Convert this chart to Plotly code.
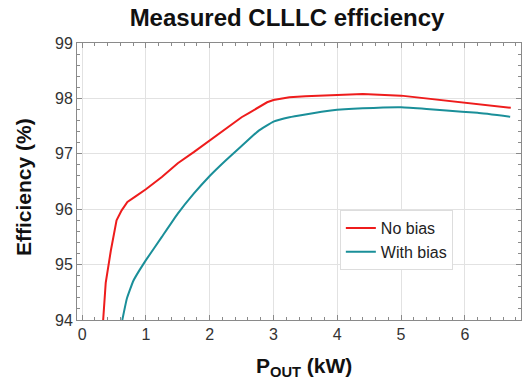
import plotly.graph_objects as go

# Data
p_no_bias = [0.33, 0.37, 0.45, 0.54, 0.62, 0.71, 0.85, 1.0, 1.25, 1.5, 1.75, 2.0, 2.25, 2.5, 2.62, 2.76, 2.9, 3.0, 3.25, 3.5, 3.9, 4.4, 5.0, 5.4, 5.7, 6.2, 6.72]
eff_no_bias = [94.0, 94.67, 95.25, 95.8, 95.98, 96.13, 96.24, 96.36, 96.58, 96.83, 97.03, 97.24, 97.45, 97.66, 97.74, 97.84, 97.93, 97.97, 98.02, 98.04, 98.06, 98.08, 98.05, 98.0, 97.96, 97.9, 97.83]

p_with_bias = [0.63, 0.7, 0.8, 0.9, 1.0, 1.25, 1.5, 1.75, 2.0, 2.25, 2.5, 2.76, 3.0, 3.25, 3.5, 3.9, 4.4, 5.0, 5.4, 5.71, 6.2, 6.71]
eff_with_bias = [94.0, 94.38, 94.7, 94.9, 95.08, 95.5, 95.92, 96.28, 96.6, 96.88, 97.14, 97.41, 97.58, 97.66, 97.71, 97.78, 97.82, 97.84, 97.81, 97.78, 97.74, 97.67]

x_ticks = [0, 1, 2, 3, 4, 5, 6]
y_ticks = [94, 95, 96, 97, 98, 99]

series_names = ["No bias", "With bias"]
colors = ["#ee1c1c", "#1a8f99"]

fig = go.Figure()
fig.add_trace(go.Scatter(x=p_no_bias, y=eff_no_bias, mode="lines", name=series_names[0],
                         line=dict(color=colors[0], width=2)))
fig.add_trace(go.Scatter(x=p_with_bias, y=eff_with_bias, mode="lines", name=series_names[1],
                         line=dict(color=colors[1], width=2, shape="spline", smoothing=0.3)))

font_family = "Liberation Sans, Arial, sans-serif"
axis_common = dict(
    showline=True, linecolor="#8a8a8a", linewidth=1, mirror="ticks",
    ticks="inside", ticklen=5, tickcolor="#8a8a8a",
    showgrid=True, gridcolor="#e2e2e2", gridwidth=1,
    zeroline=False,
    tickfont=dict(family=font_family, size=16, color="#333333"),
    minor=dict(dtick=0.2, ticks="inside", ticklen=3, tickcolor="#8a8a8a", showgrid=False),
)

fig.update_layout(
    width=522, height=380,
    margin=dict(l=77, r=1, t=43, b=60),
    paper_bgcolor="white", plot_bgcolor="white",
    title=dict(text="<b>Measured CLLLC efficiency</b>", x=287 / 522, xanchor="center", y=1 - 18 / 380, yanchor="middle",
               font=dict(family=font_family, size=24, color="#111111")),
    xaxis=dict(range=[-0.08, 6.88], tickvals=x_ticks, **axis_common),
    yaxis=dict(range=[94, 99], tickvals=y_ticks, **axis_common),
    legend=dict(x=0.592, y=0.397, xanchor="left", yanchor="top",
                bgcolor="white", bordercolor="#dddddd", borderwidth=1,
                font=dict(family=font_family, size=16, color="#222222"),
                itemwidth=30, tracegroupgap=0),
    showlegend=True,
    annotations=[
        dict(text="<b>Efficiency (%)</b>", xref="paper", yref="paper",
             x=(23 - 77) / 444, y=(320 - 187) / 277, xanchor="center", yanchor="middle",
             textangle=-90, showarrow=False,
             font=dict(family=font_family, size=21, color="#111111")),
        dict(text="<b>P<sub>OUT</sub> (kW)</b>", xref="paper", yref="paper",
             x=(304 - 77) / 444, y=-(367 - 320) / 277, xanchor="center", yanchor="middle",
             showarrow=False,
             font=dict(family=font_family, size=21, color="#111111")),
    ],
)

fig.write_html("out.html")
